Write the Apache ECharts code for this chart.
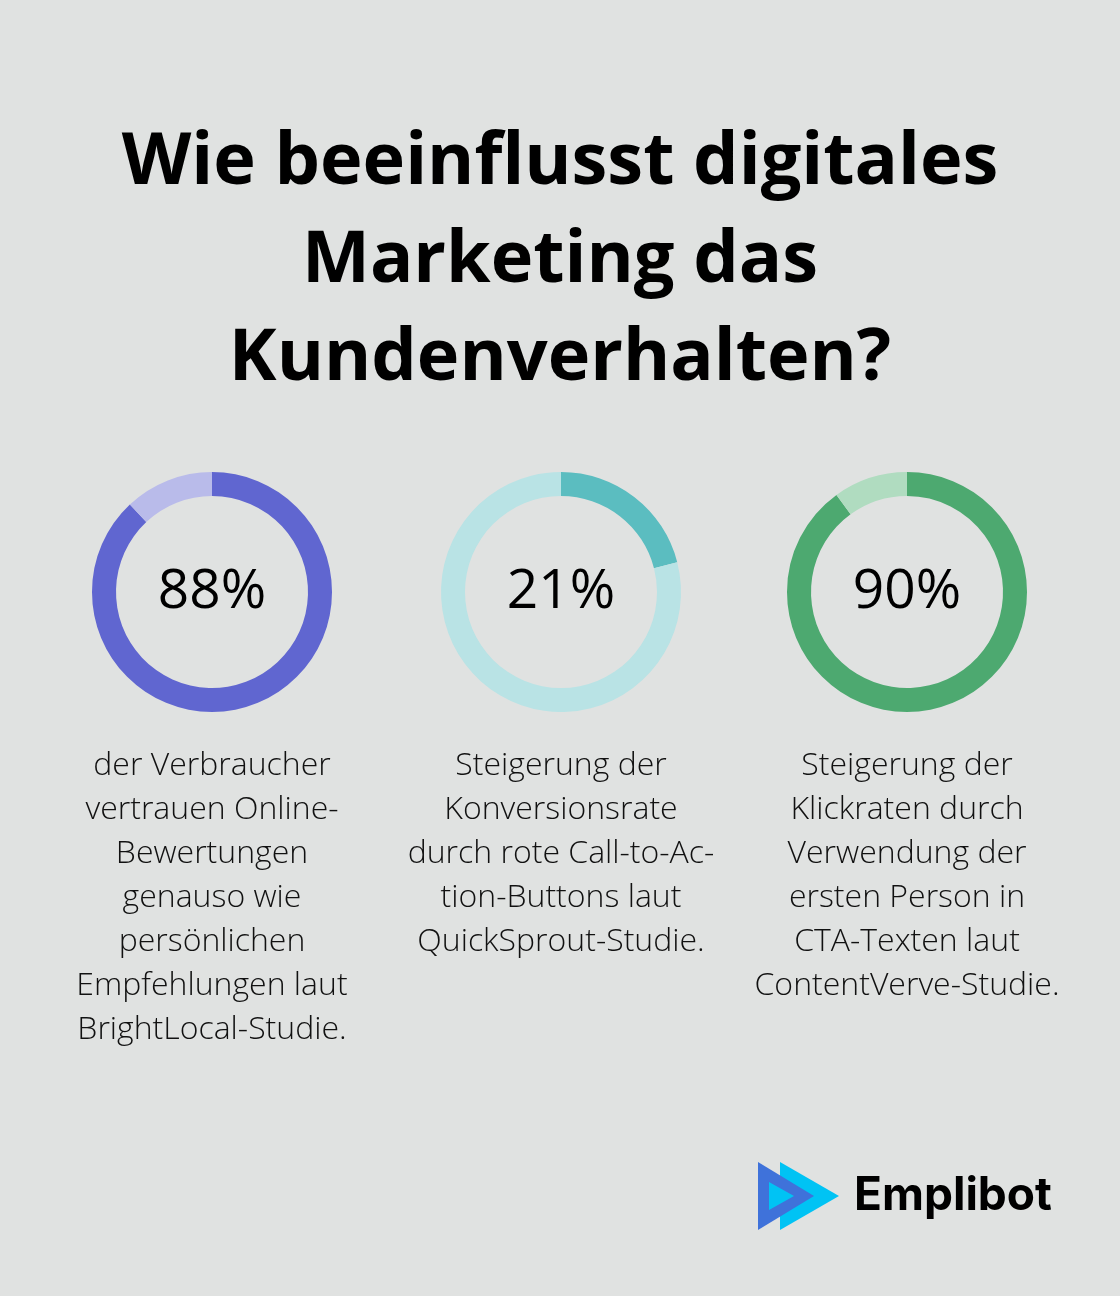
<!DOCTYPE html>
<html>
<head>
<meta charset="utf-8">
<script src="https://cdn.jsdelivr.net/npm/echarts@6/dist/echarts.min.js"></script>
<style>
html,body{margin:0;padding:0;background:#E0E2E1;}
#c{width:1120px;height:1296px;}
</style>
</head>
<body>
<div id="c"></div>
<script>
const titleLines = ['Wie beeinflusst digitales', 'Marketing das', 'Kundenverhalten?'];
const categories = ['BrightLocal', 'QuickSprout', 'ContentVerve'];
const values = [88, 21, 90];
const captions = [
  ['der Verbraucher', 'vertrauen Online-', 'Bewertungen', 'genauso wie', 'persönlichen', 'Empfehlungen laut', 'BrightLocal-Studie.'],
  ['Steigerung der', 'Konversionsrate', 'durch rote Call-to-Ac-', 'tion-Buttons laut', 'QuickSprout-Studie.'],
  ['Steigerung der', 'Klickraten durch', 'Verwendung der', 'ersten Person in', 'CTA-Texten laut', 'ContentVerve-Studie.']
];
const brand = 'Emplibot';

const darkColors = ['#6066D0', '#5BBDC0', '#4DA970'];
const lightColors = ['#B9BBEA', '#B9E3E5', '#B0DCC0'];
const centersX = [212, 561, 907];
const centerY = 592;

const chart = echarts.init(document.getElementById('c'), null, {renderer: 'canvas'});

const series = values.map((v, i) => ({
  type: 'pie',
  name: categories[i],
  center: [centersX[i], centerY],
  radius: [96, 120],
  startAngle: 90,
  clockwise: true,
  silent: true,
  avoidLabelOverlap: false,
  labelLine: {show: false},
  emphasis: {disabled: true},
  data: [
    {value: v, itemStyle: {color: darkColors[i]},
     label: {show: true, position: 'center', formatter: v + '%',
       fontFamily: 'Open Sans', fontSize: 55, fontWeight: 'normal', color: '#000'}},
    {value: 100 - v, itemStyle: {color: lightColors[i]}, label: {show: false}}
  ]
}));

const graphics = [];
titleLines.forEach((t, k) => {
  graphics.push({
    type: 'text', left: 'center', top: 127 + k * 98,
    style: {text: t, font: 'bold 72px "Open Sans"', fill: '#000', textAlign: 'center'}
  });
});
captions.forEach((lines, i) => {
  lines.forEach((t, k) => {
    graphics.push({
      type: 'text', x: centersX[i], y: 766 + k * 44,
      style: {text: t, font: '300 32px "Open Sans"', fill: '#111', textAlign: 'center', textVerticalAlign: 'middle'}
    });
  });
});
// logo
graphics.push({type: 'polygon', shape: {points: [[780, 1162], [780, 1230], [839, 1196]]}, style: {fill: '#00C3F4'}});
graphics.push({type: 'polygon', shape: {points: [[758, 1162], [758, 1230], [814, 1196]]}, style: {fill: '#3F72DA'}});
graphics.push({type: 'polygon', shape: {points: [[769, 1182], [769, 1210], [794, 1196]]}, style: {fill: '#00C3F4'}});
graphics.push({type: 'text', x: 854, y: 1196,
  style: {text: brand, font: 'bold 46px "Inter"', fill: '#000', textVerticalAlign: 'middle', textAlign: 'left'}});

chart.setOption({
  backgroundColor: '#E0E2E1',
  animation: false,
  series: series,
  graphic: graphics
});
</script>
</body>
</html>
